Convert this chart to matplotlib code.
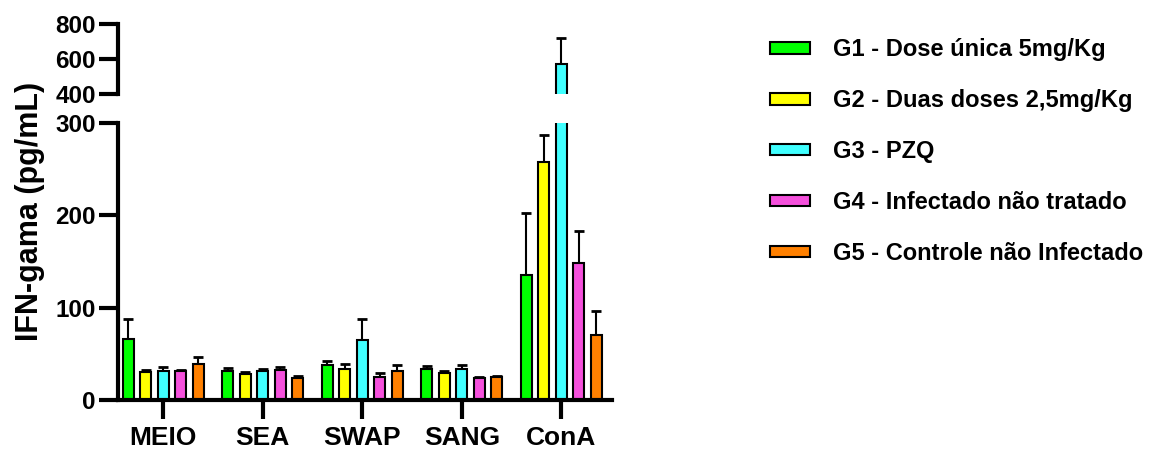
import numpy as np
import matplotlib
matplotlib.use("Agg")
import matplotlib.pyplot as plt
from matplotlib.patches import Patch

plt.rcParams["font.family"] = ["Liberation Sans", "DejaVu Sans"]
plt.rcParams["font.weight"] = "bold"

# dados
categorias = ["MEIO", "SEA", "SWAP", "SANG", "ConA"]
grupos = ["G1 - Dose única 5mg/Kg", "G2 - Duas doses 2,5mg/Kg", "G3 - PZQ",
          "G4 - Infectado não tratado", "G5 - Controle não Infectado"]
cores = ["#00FF00", "#FFFF00", "#40FFFF", "#F550DC", "#FF8000"]

g1 = [66, 32, 37.5, 34, 135]
g2 = [30, 28, 34, 29, 258]
g3 = [32, 32, 65, 34, 571]
g4 = [31, 33, 25, 23.5, 148]
g5 = [38.5, 24, 31, 25, 70]
medias = [g1, g2, g3, g4, g5]

e1 = [22, 2.5, 5, 2.5, 68]
e2 = [2.5, 2.5, 5, 2, 29]
e3 = [3.5, 2, 23, 3.5, 147]
e4 = [2, 2.5, 4, 1.5, 35]
e5 = [8.5, 2, 7, 1.5, 26]
erros = [e1, e2, e3, e4, e5]

fig = plt.figure(figsize=(11.66, 4.5), dpi=100)
ax_low = fig.add_axes([0.1012, 0.111, 0.4237, 0.6156])
ax_up = fig.add_axes([0.1012, 0.791, 0.4237, 0.1556])

x = np.arange(len(categorias))
passo = 0.175
larg = 0.11
for i in range(5):
    pos = x + (i - 2) * passo
    for ax in (ax_low, ax_up):
        ax.bar(pos, medias[i], width=larg, color=cores[i], edgecolor="black",
               linewidth=1.5, zorder=2)
        ax.errorbar(pos, medias[i], yerr=[np.zeros(5), erros[i]], fmt="none",
                    ecolor="black", elinewidth=1.5, capsize=3.5, capthick=2,
                    zorder=1)

for ax in (ax_low, ax_up):
    ax.set_xlim(-0.455, 4.51)
    ax.spines["top"].set_visible(False)
    ax.spines["right"].set_visible(False)
    ax.spines["left"].set_linewidth(3)
    ax.tick_params(axis="y", width=3, length=14, labelsize=17.5, pad=2)
    for lab in ax.get_yticklabels():
        lab.set_fontweight("bold")

ax_low.set_ylim(0, 300)
ax_low.set_yticks([0, 100, 200, 300])
ax_low.spines["bottom"].set_linewidth(3)
ax_low.set_xticks(x)
ax_low.set_xticklabels(categorias, fontsize=19, fontweight="bold")
ax_low.tick_params(axis="x", width=3, length=14, pad=5)

ax_up.set_ylim(400, 800)
ax_up.set_yticks([400, 600, 800])
ax_up.spines["bottom"].set_visible(False)
ax_up.set_xticks([])

fig.text(0.026, 0.53, "IFN-gama (pg/mL)", rotation=90, fontsize=22,
         fontweight="bold", ha="center", va="center")

handles = [Patch(facecolor=c, edgecolor="black", linewidth=1.5) for c in cores]
fig.legend(handles, grupos, loc="upper left", bbox_to_anchor=(0.6422, 0.962),
           frameon=False, prop={"size": 17, "weight": "bold"},
           handlelength=1.7, handleheight=0.38, handletextpad=0.97,
           labelspacing=1.18)

fig.savefig("out.png", dpi=100)
